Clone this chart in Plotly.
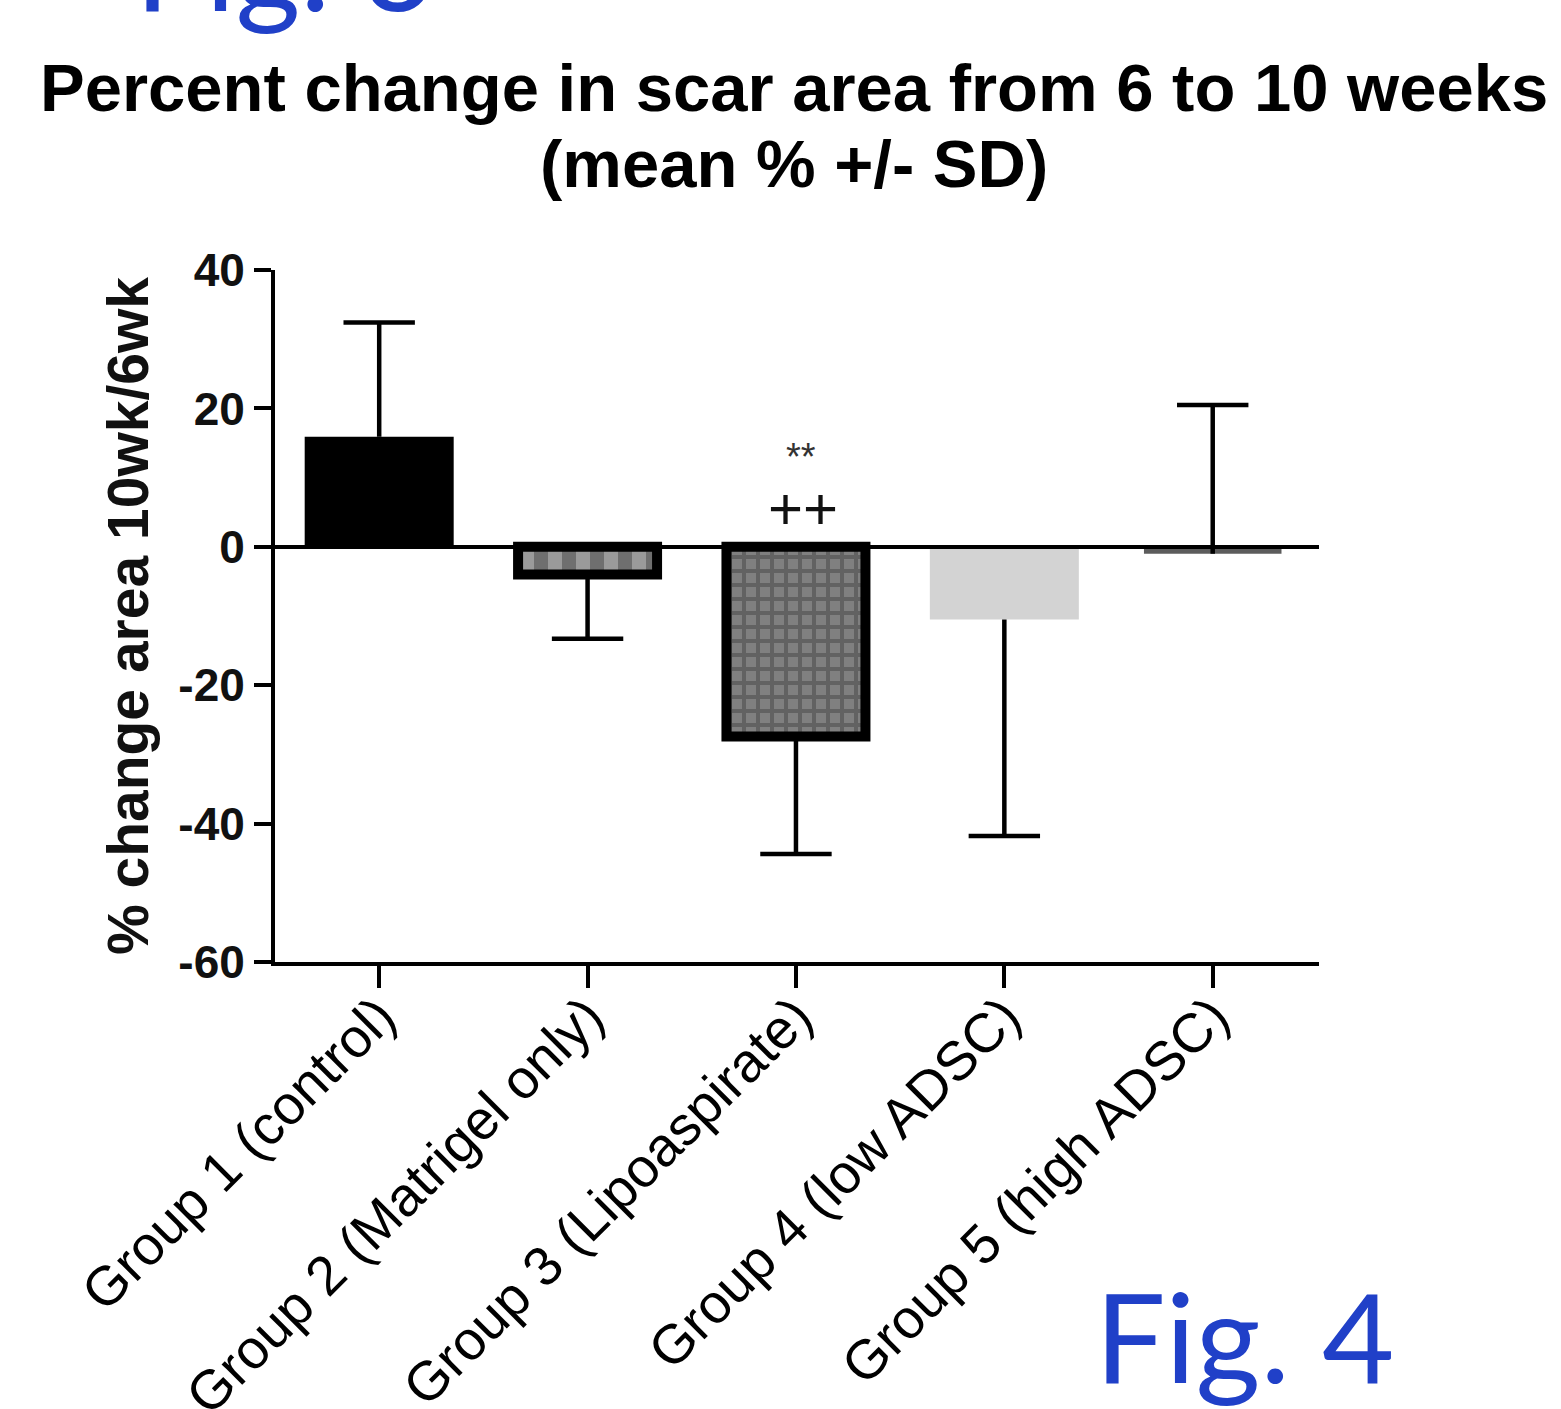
import plotly.graph_objects as go

# ---------------- data ----------------
categories = ["Group 1 (control)", "Group 2 (Matrigel only)", "Group 3 (Lipoaspirate)",
              "Group 4 (low ADSC)", "Group 5 (high ADSC)"]
mean_change = [15.9, -4.0, -27.4, -10.5, -1.0]
sd_change = [16.5, 9.3, 17.0, 31.3, 21.5]
error_direction = [1, -1, -1, -1, 1]
y_tick_values = [-60, -40, -20, 0, 20, 40]
y_tick_labels = ["-60", "-40", "-20", "0", "20", "40"]
sig_stars = ["", "", "**", "", ""]
sig_plus = ["", "", "++", "", ""]

# ---------------- styles ----------------
bar_colors = ["#000000", "#9a9a9a", "#808080", "#d3d3d3", "#5c5c5c"]
pattern_shapes = ["", "|", "+", "", ""]
pattern_fg = ["#000000", "#000000", "#000000", "#000000", "#000000"]
pattern_size = [10, 28, 14, 10, 10]
pattern_solidity = [0.5, 0.5, 0.49, 0.5, 0.5]
line_widths = [0, 10, 10, 0, 0]
bar_widths = [0.715, 0.667, 0.667, 0.715, 0.66]

FONT = "Liberation Sans, Arial, sans-serif"

fig = go.Figure()

fig.add_trace(go.Bar(
    x=categories, y=mean_change, width=bar_widths,
    marker=dict(
        color=bar_colors,
        line=dict(color="#000000", width=line_widths),
        pattern=dict(shape=pattern_shapes, fgcolor=pattern_fg,
                     size=pattern_size, solidity=pattern_solidity, fillmode="overlay"),
    ),
    showlegend=False, hoverinfo="skip",
))

# error bar stems and caps (one-sided, GraphPad style)
err_end = [m + d * s for m, s, d in zip(mean_change, sd_change, error_direction)]
stem_x, stem_y = [], []
for c, m, e in zip(categories, mean_change, err_end):
    stem_x += [c, c, None]
    stem_y += [m, e, None]
fig.add_trace(go.Scatter(x=stem_x, y=stem_y, mode="lines",
                         line=dict(color="#000000", width=4.5),
                         showlegend=False, hoverinfo="skip"))
fig.add_trace(go.Scatter(x=categories, y=err_end, mode="markers",
                         marker=dict(symbol="line-ew", size=51,
                                     line=dict(color="#000000", width=4.5)),
                         showlegend=False, hoverinfo="skip"))

# significance marks
for c, s, p in zip(categories, sig_stars, sig_plus):
    if s:
        fig.add_annotation(x=c, y=13.0, xref="x", yref="y", text=s, showarrow=False,
                           xshift=5, font=dict(family=FONT, size=38, color="#333333"))
    if p:
        fig.add_annotation(x=c, y=5.6, xref="x", yref="y", text=p, showarrow=False,
                           xshift=7, font=dict(family=FONT, size=60, color="#111111"))

# titles
fig.add_annotation(x=(794 - 275) / 1044, y=(962 - 88) / 692, xref="paper", yref="paper",
                   text="<b>Percent change in scar area from 6 to 10 weeks</b>",
                   showarrow=False, xanchor="center", yanchor="middle",
                   font=dict(family=FONT, size=67, color="#000000"))
fig.add_annotation(x=(794 - 275) / 1044, y=(962 - 163) / 692, xref="paper", yref="paper",
                   text="<b>(mean % +/- SD)</b>",
                   showarrow=False, xanchor="center", yanchor="middle",
                   font=dict(family=FONT, size=67, color="#000000"))
fig.add_annotation(x=(128 - 275) / 1044, y=0.5, xref="paper", yref="paper",
                   text="<b>% change area 10wk/6wk</b>", textangle=-90,
                   showarrow=False, xanchor="center", yanchor="middle",
                   font=dict(family=FONT, size=57, color="#111111"))
# figure labels
fig.add_annotation(x=(1244 - 275) / 1044, y=(962 - 1335) / 692, xref="paper", yref="paper",
                   text="Fig. 4", showarrow=False, xanchor="center", yanchor="middle",
                   font=dict(family="Lato, sans-serif", size=125, color="#2040c8"))
fig.add_annotation(x=(284 - 275) / 1044, y=(962 + 37) / 692, xref="paper", yref="paper",
                   text="Fig. 3", showarrow=False, xanchor="center", yanchor="middle",
                   font=dict(family="Lato, sans-serif", size=125, color="#2040c8"))

fig.update_xaxes(
    type="category", categoryorder="array", categoryarray=categories,
    range=[-0.5, 4.51], automargin=False,
    showline=True, linecolor="#000000", linewidth=4,
    ticks="outside", ticklen=22, tickwidth=4, tickcolor="#000000",
    tickangle=-45, tickfont=dict(family=FONT, size=55, color="#000000"),
    ticklabelstandoff=-26,
    showgrid=False, zeroline=False,
)
fig.update_yaxes(
    range=[-60, 40], tickvals=y_tick_values, ticktext=y_tick_labels, automargin=False,
    showline=True, linecolor="#000000", linewidth=4,
    ticks="outside", ticklen=17, tickwidth=4, tickcolor="#000000",
    tickfont=dict(family=FONT, size=46, color="#111111", weight="bold"),
    showgrid=False, zeroline=True, zerolinecolor="#000000", zerolinewidth=4,
)
try:
    fig.update_yaxes(zerolinelayer="above traces")
except Exception:
    pass

fig.update_layout(
    width=1561, height=1409, autosize=False,
    margin=dict(l=275, r=242, t=270, b=447),
    paper_bgcolor="#ffffff", plot_bgcolor="#ffffff",
    bargap=0.3,
)

fig.write_html("out.html", config={"displayModeBar": False},
               post_script="document.body.style.margin='0';")
